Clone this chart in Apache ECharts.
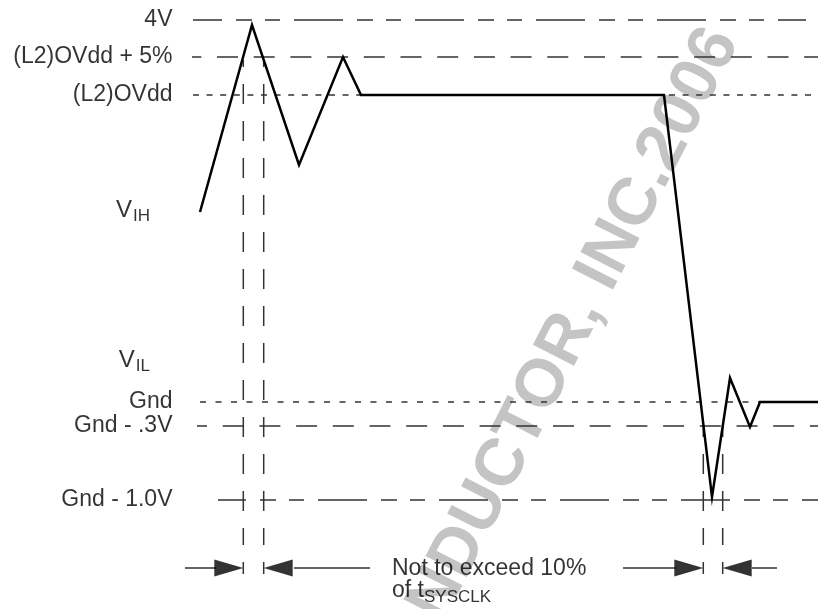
<!DOCTYPE html>
<html>
<head>
<meta charset="utf-8">
<script src="https://cdn.jsdelivr.net/npm/echarts@6/dist/echarts.min.js"></script>
<style>html,body{margin:0;padding:0;background:#fff;}#c{width:818px;height:609px;}</style>
</head>
<body>
<div id="c"></div>
<script>
// ---- data (schematic units: x = time, y = volts-like level, Gnd = 0) ----
const waveX = [20.0, 25.2, 29.9, 34.3, 36.1, 66.4, 71.2, 73.0, 75.0, 76.0, 81.8];
const waveY = [1.90, 3.77, 2.37, 3.45, 3.07, 3.07, -0.95, 0.24, -0.25, 0.0, 0.0];

const levelNames  = ['4V', '(L2)OVdd + 5%', '(L2)OVdd', 'Gnd', 'Gnd - .3V', 'Gnd - 1.0V'];
const levelValues = [3.82, 3.45, 3.07, 0.0, -0.24, -0.98];
const levelStart  = [19.3, 19.2, 19.3, 20.0, 19.7, 21.8];
const levelEnd    = [80.6, 81.8, 81.8, 81.8, 81.8, 81.8];

const inputLevelNames  = ['IH', 'IL'];
const inputLevelValues = [1.92, 0.42];

const windowX      = [24.33, 26.37, 70.33, 72.27];
const windowTop    = [3.42, 3.42, -0.23, -0.23];
const windowBottom = -1.43;

const arrowRowY    = -1.66;
const shaftStart   = [18.5, 29.4, 62.3, 75.2];
const shaftEnd     = [21.6, 37.0, 67.6, 77.7];
const arrowTips    = [24.33, 26.37, 70.33, 72.27];
const arrowPointsRight = [true, false, true, false];

const noteLines = ['Not to exceed 10%', '{a|of t}{s|SYSCLK}'];
const noteX = 39.2;
const noteY = [-1.67, -1.89];

const labelX = 17.25;
const inputLabelX = 15.0;

const watermarkText = 'ARCHIVED BY FREESCALE SEMICONDUCTOR, INC.2006';

// ---- styles ----
const FONT = '"Liberation Sans", Arial, Helvetica, sans-serif';
const refColor = '#333333';
const levelDash = [
  {type: [49, 14, 16, 13, 15, 14], offset: 20},
  {type: [21, 15.7], offset: 11.7},
  {type: [6, 7.6], offset: 0},
  {type: [6, 9.5], offset: 0},
  {type: [21, 15.7], offset: 11},
  {type: [49, 14, 16, 13, 15, 14], offset: 21}
];

const series = [];

levelValues.forEach((v, i) => {
  series.push({
    type: 'line', silent: true, symbol: 'none', z: 2,
    data: [[levelStart[i], v], [levelEnd[i], v]],
    lineStyle: {color: refColor, width: 1.5, type: levelDash[i].type, dashOffset: levelDash[i].offset}
  });
});

windowX.forEach((x, i) => {
  series.push({
    type: 'line', silent: true, symbol: 'none', z: 3,
    data: [[x, windowTop[i]], [x, windowBottom]],
    lineStyle: {color: refColor, width: 1.5, type: [20, 17], dashOffset: i < 2 ? 13 : 8}
  });
});

// waveform
series.push({
  type: 'line', silent: true, symbol: 'none', z: 5,
  data: waveX.map((x, i) => [x, waveY[i]]),
  lineStyle: {color: '#000', width: 2.5, join: 'miter'}
});

// arrow shafts and end ticks
shaftStart.forEach((s, i) => {
  series.push({
    type: 'line', silent: true, symbol: 'none', z: 4,
    data: [[s, arrowRowY], [shaftEnd[i], arrowRowY]],
    lineStyle: {color: refColor, width: 1.5}
  });
  series.push({
    type: 'line', silent: true, symbol: 'none', z: 4,
    data: [[arrowTips[i], arrowRowY + 0.06], [arrowTips[i], arrowRowY - 0.06]],
    lineStyle: {color: refColor, width: 1.5}
  });
});

// arrow heads
series.push({
  type: 'scatter', silent: true, z: 6,
  symbol: 'triangle',
  symbolSize: [17, 29],
  data: arrowTips.map((t, i) => ({
    value: [arrowPointsRight[i] ? t - 1.45 : t + 1.45, arrowRowY],
    symbolRotate: arrowPointsRight[i] ? -90 : 90
  })),
  itemStyle: {color: '#000'}
});

// level labels
series.push({
  type: 'scatter', silent: true, symbolSize: 0, z: 6,
  data: levelValues.map((v, i) => ({value: [labelX, v], name: levelNames[i]})),
  label: {show: true, position: 'left', distance: 0, color: '#000', fontSize: 23, fontFamily: FONT,
    formatter: p => p.name}
});

series.push({
  type: 'scatter', silent: true, symbolSize: 0, z: 6,
  data: inputLevelValues.map((v, i) => ({value: [inputLabelX, v], name: inputLevelNames[i]})),
  label: {show: true, position: 'left', distance: 0, color: '#000', fontFamily: FONT,
    formatter: p => '{v|V}{s|' + p.name + '}',
    rich: {
      v: {fontSize: 24, fontFamily: FONT, color: '#000'},
      s: {fontSize: 17, fontFamily: FONT, color: '#000', padding: [13, 0, 0, 1]}
    }}
});

// note text
series.push({
  type: 'scatter', silent: true, symbolSize: 0, z: 6,
  data: noteLines.map((t, i) => ({value: [noteX, noteY[i]], name: t})),
  label: {show: true, position: 'right', distance: 0, color: '#000', fontSize: 23, fontFamily: FONT,
    formatter: p => p.name,
    rich: {
      a: {fontSize: 23, fontFamily: FONT, color: '#000'},
      s: {fontSize: 17, fontFamily: FONT, color: '#000', padding: [12, 0, 0, 0]}
    }}
});

const chart = echarts.init(document.getElementById('c'), null, {renderer: 'canvas'});
chart.setOption({
  backgroundColor: '#fff',
  animation: false,
  grid: {left: 0, right: 0, top: 0, bottom: 0},
  xAxis: {type: 'value', min: 0, max: 81.8, show: false},
  yAxis: {type: 'value', min: -2.07, max: 4.02, show: false},
  graphic: [{
    type: 'text', silent: true, z: 0,
    x: 723, y: 33, rotation: 63 * Math.PI / 180,
    style: {x: 0, y: 0, text: watermarkText, align: 'right', verticalAlign: 'middle',
      fill: '#c4c4c4', fontSize: 67, fontWeight: 'bold', fontFamily: FONT}
  }],
  series: series
});
</script>
</body>
</html>
